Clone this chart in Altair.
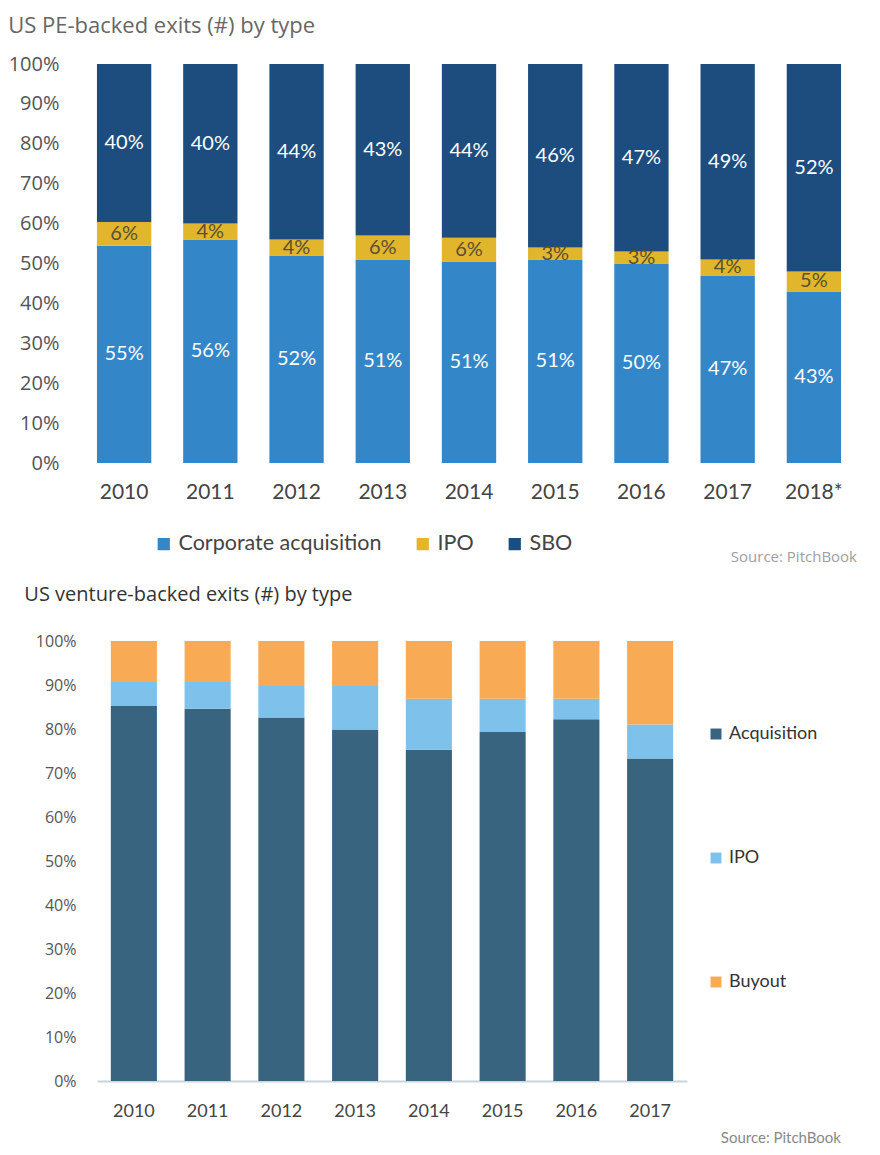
import altair as alt
import pandas as pd

# ---------------- data ----------------
pe_years = ["2010", "2011", "2012", "2013", "2014", "2015", "2016", "2017", "2018*"]
pe_types = ["Corporate acquisition", "IPO", "SBO"]
pe_corp = [55, 56, 52, 51, 51, 51, 50, 47, 43]
pe_ipo = [6, 4, 4, 6, 6, 3, 3, 4, 5]
pe_sbo = [40, 40, 44, 43, 44, 46, 47, 49, 52]
pe_colors = ["#3386C8", "#E2B62C", "#1C4D7E"]

vc_years = ["2010", "2011", "2012", "2013", "2014", "2015", "2016", "2017"]
vc_types = ["Acquisition", "IPO", "Buyout"]
vc_acq = [85.2, 84.6, 82.6, 79.9, 75.3, 79.3, 82.2, 73.3]
vc_ipo = [5.5, 6.1, 7.2, 9.9, 11.6, 7.6, 4.7, 7.7]
vc_buyout = [9.3, 9.3, 10.2, 10.2, 13.1, 13.1, 13.1, 19.0]
vc_colors = ["#386480", "#7EC2EC", "#F8AA55"]

pct_ticks = [0, 0.1, 0.2, 0.3, 0.4, 0.5, 0.6, 0.7, 0.8, 0.9, 1.0]

pe_rows = []
for i, yr in enumerate(pe_years):
    for k, (t, vals) in enumerate(zip(pe_types, [pe_corp, pe_ipo, pe_sbo])):
        pe_rows.append({"year": yr, "type": t, "value": vals[i], "order": k})
pe_df = pd.DataFrame(pe_rows)

vc_rows = []
for i, yr in enumerate(vc_years):
    for k, (t, vals) in enumerate(zip(vc_types, [vc_acq, vc_ipo, vc_buyout])):
        vc_rows.append({"year": yr, "type": t, "value": vals[i], "order": k})
vc_df = pd.DataFrame(vc_rows)

# ---------------- top chart ----------------
pe_base = alt.Chart(pe_df).transform_stack(
    stack="value", groupby=["year"], sort=[alt.SortField("order")],
    as_=["y0", "y1"], offset="normalize"
).transform_calculate(
    mid="(datum.y0 + datum.y1) / 2",
    label="datum.value + '%'"
)

pe_xaxis = alt.Axis(labelAngle=0, labelFont="Lato", labelFontSize=21,
                    labelColor="#444", ticks=False, domain=False, labelPadding=18)
pe_yaxis = alt.Axis(values=pct_ticks, format=".0%", labelFont="Open Sans",
                    labelFontSize=20, labelColor="#555", ticks=False,
                    domain=False, grid=False, labelPadding=22, labelOverlap=False)
pe_xscale = alt.Scale(paddingInner=0.37)
pe_yscale = alt.Scale(domain=[0, 1], nice=False)

pe_bars = pe_base.mark_bar().encode(
    x=alt.X("year:N", sort=pe_years, title=None, scale=pe_xscale, axis=pe_xaxis),
    y=alt.Y("y0:Q", scale=pe_yscale, title=None, axis=pe_yaxis),
    y2="y1:Q",
    color=alt.Color("type:N", scale=alt.Scale(domain=pe_types, range=pe_colors),
                    legend=alt.Legend(title=None, orient="none", direction="horizontal",
                                      legendX=72, legendY=469, symbolType="square",
                                      symbolSize=150, symbolStrokeWidth=0,
                                      labelFont="Lato", labelFontSize=21.5,
                                      labelColor="#444", columnPadding=30,
                                      labelOffset=4, labelLimit=0)),
    order=alt.Order("order:Q"),
)

pe_text = pe_base.mark_text(font="Lato", fontSize=20).encode(
    x=alt.X("year:N", sort=pe_years, title=None, scale=pe_xscale, axis=pe_xaxis),
    y=alt.Y("mid:Q", scale=pe_yscale, title=None, axis=pe_yaxis),
    text="label:N",
    color=alt.condition("datum.type == 'IPO'", alt.value("#5a5030"), alt.value("white")),
)

pe_source = alt.Chart(pd.DataFrame({"t": ["Source: PitchBook"]})).mark_text(
    align="right", font="Open Sans", fontSize=15, color="#a0a0a0"
).encode(x=alt.value(776), y=alt.value(493), text="t:N")

top = alt.layer(pe_bars, pe_text, pe_source).properties(
    width=776, height=399,
    title=alt.TitleParams("US PE-backed exits (#) by type", anchor="start",
                          font="Open Sans", fontSize=22, fontWeight="normal",
                          color="#666", offset=16)
)

# ---------------- bottom chart ----------------
vc_bars = alt.Chart(vc_df).transform_stack(
    stack="value", groupby=["year"], sort=[alt.SortField("order")],
    as_=["y0", "y1"], offset="normalize"
).mark_bar().encode(
    x=alt.X("year:N", sort=vc_years, title=None,
            scale=alt.Scale(paddingInner=0.375, range=[16, 606]),
            axis=alt.Axis(labelAngle=0, labelFont="Lato", labelFontSize=18,
                          labelColor="#444", ticks=False, domain=True,
                          domainColor="#c8d5df", domainWidth=2, labelPadding=21)),
    y=alt.Y("y0:Q", scale=alt.Scale(domain=[0, 1], nice=False), title=None,
            axis=alt.Axis(values=pct_ticks, format=".0%", labelFont="Open Sans",
                          labelFontSize=16, labelColor="#555", ticks=False,
                          domain=False, grid=False, labelPadding=5,
                          labelOverlap=False)),
    y2="y1:Q",
    color=alt.Color("type:N", scale=alt.Scale(domain=vc_types, range=vc_colors),
                    legend=alt.Legend(title=None, orient="none", direction="vertical",
                                      legendX=626, legendY=84, symbolType="square",
                                      symbolSize=120, symbolStrokeWidth=0,
                                      labelFont="Lato", labelFontSize=18,
                                      labelColor="#333", rowPadding=106,
                                      labelOffset=4, labelLimit=0)),
    order=alt.Order("order:Q"),
)

vc_source = alt.Chart(pd.DataFrame({"t": ["Source: PitchBook"]})).mark_text(
    align="right", font="Lato", fontSize=15, color="#888"
).encode(x=alt.value(760), y=alt.value(497), text="t:N")

bottom = alt.layer(vc_bars, vc_source).properties(
    width=606, height=440,
    title=alt.TitleParams("US venture-backed exits (#) by type", anchor="start",
                          font="Open Sans", fontSize=20, fontWeight="normal",
                          color="#333", offset=28, dx=-11)
)

chart = alt.concat(top, bottom, columns=1, spacing=20).properties(
    padding={"left": 0, "top": 7, "right": 5, "bottom": 5}
).resolve_scale(color="independent").configure_view(stroke=None)

chart.save("out.html", embed_options={"renderer": "svg", "actions": False})
